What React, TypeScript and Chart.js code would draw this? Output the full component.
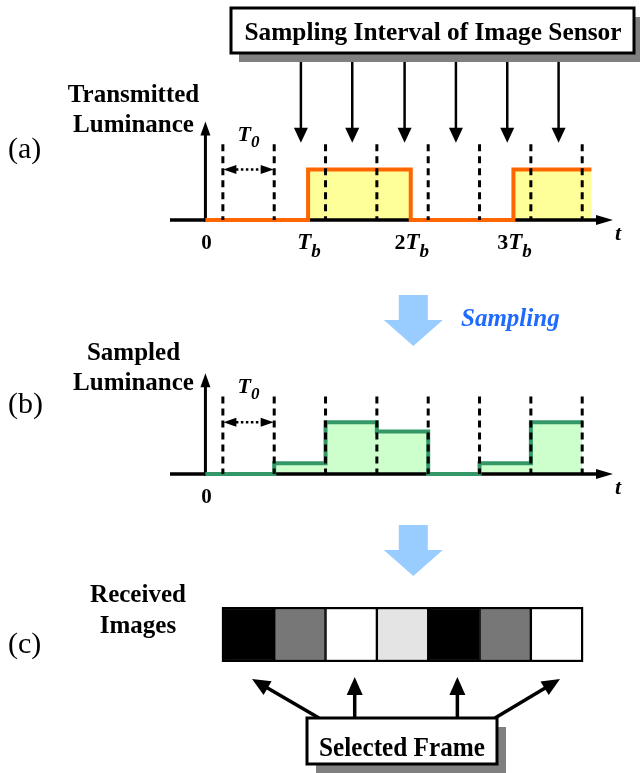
import React, { useEffect, useRef } from "react";
import { Chart, registerables } from "chart.js";

Chart.register(...registerables);

const W = 640;
const H = 773;
const SERIF = '"Liberation Serif", "Times New Roman", serif';

// Time axis, in units of the bit period Tb
const T_MIN = -0.345;
const T_MAX = 3.97;

// (a) transmitted luminance: level holding from each instant on
const TX_TIMES = [0, 1, 2, 3, 3.76];
const TX_LEVELS = [0, 1, 0, 1, 1];

// Frame boundaries of the image sensor (dashed lines)
const FRAME_EDGES = [0.17, 0.67, 1.17, 1.67, 2.17, 2.67, 3.17, 3.67];
// Sampling instants pointed at from the sensor box
const SENSOR_MARKS = [0.93, 1.43, 1.94, 2.44, 2.94, 3.44];

// (b) sampled luminance, one level per frame
const RX_TIMES = [0, 0.67, 1.17, 1.67, 2.17, 2.67, 3.17, 3.67];
const RX_LEVELS = [0, 0.21, 1, 0.82, 0, 0.21, 1, 1];

// (c) received images: grey level of each frame
const FRAME_SHADES = ["#000000", "#777777", "#ffffff", "#e4e4e4", "#000000", "#777777", "#ffffff"];
const SELECTED_FRAMES = [0, 2, 4, 6];

// time-axis tick labels
const TICK_VALUES = [0, 1, 2, 3];
const TICK_LABELS = ["0", "T_b", "2T_b", "3T_b"];

const ORANGE = "#ff6600";
const YELLOW = "#ffff99";
const GREEN = "#349866";
const MINT = "#ccffcc";
const SKY = "#99ccff";
const BLUE = "#1f6bff";

const B = (n: number) => `bold ${n}px ${SERIF}`;
const BI = (n: number) => `italic bold ${n}px ${SERIF}`;
const R = (n: number) => `${n}px ${SERIF}`;

type Part = { s: string; font: string; dy?: number };

function line(ctx: any, x1: number, y1: number, x2: number, y2: number) {
  ctx.beginPath();
  ctx.moveTo(x1, y1);
  ctx.lineTo(x2, y2);
  ctx.stroke();
}

function head(ctx: any, x: number, y: number, ang: number, len: number, half: number) {
  ctx.save();
  ctx.translate(x, y);
  ctx.rotate(ang);
  ctx.beginPath();
  ctx.moveTo(0, 0);
  ctx.lineTo(-len, -half);
  ctx.lineTo(-len, half);
  ctx.closePath();
  ctx.fill();
  ctx.restore();
}

function arrow(ctx: any, x1: number, y1: number, x2: number, y2: number, width: number, len: number, half: number) {
  const ang = Math.atan2(y2 - y1, x2 - x1);
  ctx.save();
  ctx.strokeStyle = "#000";
  ctx.fillStyle = "#000";
  ctx.lineWidth = width;
  line(ctx, x1, y1, x2 - Math.cos(ang) * len * 0.8, y2 - Math.sin(ang) * len * 0.8);
  head(ctx, x2, y2, ang, len, half);
  ctx.restore();
}

function text(ctx: any, s: string, x: number, y: number, font: string, align = "center", color = "#000", maxWidth?: number) {
  ctx.save();
  ctx.font = font;
  ctx.fillStyle = color;
  ctx.textAlign = align;
  ctx.textBaseline = "alphabetic";
  if (maxWidth) ctx.fillText(s, x, y, maxWidth);
  else ctx.fillText(s, x, y);
  ctx.restore();
}

function parts(ctx: any, list: Part[], cx: number, baseline: number) {
  ctx.save();
  ctx.fillStyle = "#000";
  ctx.textAlign = "left";
  ctx.textBaseline = "alphabetic";
  const widths = list.map((p) => {
    ctx.font = p.font;
    return ctx.measureText(p.s).width;
  });
  let x = cx - widths.reduce((a, b) => a + b, 0) / 2;
  list.forEach((p, i) => {
    ctx.font = p.font;
    ctx.fillText(p.s, x, baseline + (p.dy || 0));
    x += widths[i];
  });
  ctx.restore();
}

function tickParts(label: string): Part[] {
  const [pre, sub] = label.split("T_");
  if (sub === undefined) return [{ s: label, font: B(21) }];
  const out: Part[] = [];
  if (pre) out.push({ s: pre, font: B(22) });
  out.push({ s: "T", font: BI(23) }, { s: sub, font: BI(19), dy: 8 });
  return out;
}

function box(ctx: any, x: number, y: number, w: number, h: number, dx: number, dy: number) {
  ctx.save();
  ctx.fillStyle = "#808080";
  ctx.fillRect(x + dx, y + dy, w, h);
  ctx.fillStyle = "#fff";
  ctx.fillRect(x, y, w, h);
  ctx.strokeStyle = "#000";
  ctx.lineWidth = 3;
  ctx.strokeRect(x, y, w, h);
  ctx.restore();
}

function blueArrow(ctx: any, cx: number, top: number) {
  ctx.save();
  ctx.fillStyle = SKY;
  ctx.beginPath();
  ctx.moveTo(cx - 14.5, top);
  ctx.lineTo(cx + 14.5, top);
  ctx.lineTo(cx + 14.5, top + 25);
  ctx.lineTo(cx + 29.5, top + 25);
  ctx.lineTo(cx, top + 51);
  ctx.lineTo(cx - 29.5, top + 25);
  ctx.lineTo(cx - 14.5, top + 25);
  ctx.closePath();
  ctx.fill();
  ctx.restore();
}

// time axis with arrow and vertical axis with arrow
function drawAxes(chart: any) {
  const { ctx, chartArea: ca } = chart;
  const xs = chart.scales.x;
  const ys = chart.scales.y;
  const y0 = ys.getPixelForValue(0);
  const x0 = xs.getPixelForValue(0);
  ctx.save();
  ctx.strokeStyle = "#000";
  ctx.fillStyle = "#000";
  ctx.lineWidth = 3.5;
  line(ctx, ca.left, y0, ca.right - 12, y0);
  head(ctx, ca.right, y0, 0, 17, 5);
  const yt = ys.getPixelForValue(1.95);
  ctx.lineWidth = 3;
  line(ctx, x0, y0 + 1.75, x0, yt + 10);
  head(ctx, x0, yt, -Math.PI / 2, 14, 5);
  ctx.restore();
}

// dashed frame boundaries, T0 marker, tick labels and the t label
function drawFrameMarks(chart: any, tickCount: number) {
  const { ctx, chartArea: ca } = chart;
  const xs = chart.scales.x;
  const ys = chart.scales.y;
  const y0 = ys.getPixelForValue(0);
  const yTop = ys.getPixelForValue(1.5);
  ctx.save();
  ctx.strokeStyle = "#000";
  ctx.lineWidth = 3;
  ctx.setLineDash([7, 5]);
  FRAME_EDGES.forEach((e) => line(ctx, xs.getPixelForValue(e), yTop, xs.getPixelForValue(e), y0));
  ctx.restore();

  // T0 marker between the first two frame edges
  const xa = xs.getPixelForValue(FRAME_EDGES[0]);
  const xb = xs.getPixelForValue(FRAME_EDGES[1]);
  const ym = ys.getPixelForValue(1);
  ctx.save();
  ctx.fillStyle = "#000";
  ctx.strokeStyle = "#000";
  head(ctx, xa + 0.5, ym, Math.PI, 13, 4.5);
  head(ctx, xb - 0.5, ym, 0, 13, 4.5);
  ctx.lineWidth = 2.5;
  ctx.setLineDash([2.5, 2.5]);
  line(ctx, xa + 13, ym, xb - 13, ym);
  ctx.restore();
  parts(ctx, [{ s: "T", font: BI(22) }, { s: "0", font: BI(17), dy: 6 }], (xa + xb) / 2, ys.getPixelForValue(1.57));

  for (let i = 0; i < tickCount; i++) {
    parts(ctx, tickParts(TICK_LABELS[i]), xs.getPixelForValue(TICK_VALUES[i]) + 1, y0 + 29);
  }
  text(ctx, "t", ca.right + 5, y0 + 20, BI(22));
}

function baseOptions(padding: any, yMax: number) {
  return {
    responsive: false,
    animation: false,
    devicePixelRatio: 1,
    events: [],
    layout: { padding, autoPadding: false },
    plugins: {
      legend: { display: false },
      tooltip: { enabled: false },
      filler: { drawTime: "beforeDatasetsDraw" },
    },
    scales: {
      x: { type: "linear", min: T_MIN, max: T_MAX, display: false },
      y: { type: "linear", min: 0, max: yMax, display: false },
    },
  };
}

const PAD_X = { left: 170, right: 27 };

function stepSeries(times: number[], levels: number[], stroke: string, fill: string) {
  return {
    data: times.map((t, i) => ({ x: t, y: levels[i] })),
    stepped: true,
    borderColor: stroke,
    borderWidth: 4,
    backgroundColor: fill,
    fill: "origin",
    pointRadius: 0,
    tension: 0,
    clip: false,
    borderJoinStyle: "miter",
    borderCapStyle: "butt",
  };
}

function configA(): any {
  return {
    type: "line",
    data: { datasets: [stepSeries(TX_TIMES, TX_LEVELS, ORANGE, YELLOW)] },
    options: baseOptions({ ...PAD_X, top: 119, bottom: H - 220 }, 2),
    plugins: [
      {
        id: "panelA",
        beforeDatasetsDraw: (chart: any) => drawAxes(chart),
        afterDatasetsDraw: (chart: any) => {
          const { ctx } = chart;
          const xs = chart.scales.x;
          const ys = chart.scales.y;
          drawFrameMarks(chart, TICK_LABELS.length);
          // sensor box and its sampling arrows
          box(ctx, 231, 8, 403, 45, 8, 9);
          text(ctx, "Sampling Interval of Image Sensor", 433, 39.5, B(26), "center", "#000", 377);
          SENSOR_MARKS.forEach((t) => {
            const x = xs.getPixelForValue(t);
            arrow(ctx, x, 62, x, ys.getPixelForValue(1.53), 2.5, 15, 7);
          });
          text(ctx, "(a)", 8, 158, R(30), "left");
          text(ctx, "Transmitted", 133.5, 101.5, B(25));
          text(ctx, "Luminance", 133.5, 131.5, B(25));
        },
      },
    ],
  };
}

function configB(): any {
  return {
    type: "line",
    data: { datasets: [stepSeries(RX_TIMES, RX_LEVELS, GREEN, MINT)] },
    options: baseOptions({ ...PAD_X, top: 370.6, bottom: H - 474 }, 2),
    plugins: [
      {
        id: "panelB",
        beforeDatasetsDraw: (chart: any) => drawAxes(chart),
        afterDatasetsDraw: (chart: any) => {
          const { ctx } = chart;
          drawFrameMarks(chart, 1);
          blueArrow(ctx, 413.3, 295);
          text(ctx, "Sampling", 461, 326, BI(25), "left", BLUE, 101);
          text(ctx, "(b)", 8, 413, R(30), "left");
          text(ctx, "Sampled", 133.5, 360, B(25));
          text(ctx, "Luminance", 133.5, 390, B(25));
        },
      },
    ],
  };
}

function configC(): any {
  const opts: any = baseOptions({ ...PAD_X, top: 608, bottom: H - 661 }, 1);
  opts.indexAxis = "y";
  opts.scales = {
    x: { type: "linear", min: T_MIN, max: T_MAX, display: false },
    y: { type: "category", display: false },
  };
  return {
    type: "bar",
    data: {
      labels: ["frames"],
      datasets: FRAME_SHADES.map((shade, i) => ({
        data: [[FRAME_EDGES[i], FRAME_EDGES[i + 1]]],
        backgroundColor: shade,
        borderColor: "#000",
        borderWidth: 1.5,
        borderSkipped: false,
        grouped: false,
        barPercentage: 1,
        categoryPercentage: 1,
      })),
    },
    options: opts,
    plugins: [
      {
        id: "panelC",
        afterDatasetsDraw: (chart: any) => {
          const { ctx, chartArea: ca } = chart;
          const xs = chart.scales.x;
          const left = xs.getPixelForValue(FRAME_EDGES[0]);
          const right = xs.getPixelForValue(FRAME_EDGES[FRAME_EDGES.length - 1]);
          ctx.save();
          ctx.strokeStyle = "#000";
          ctx.lineWidth = 2;
          ctx.strokeRect(left, ca.top, right - left, ca.bottom - ca.top);
          ctx.restore();

          blueArrow(ctx, 413.3, 525);
          text(ctx, "(c)", 8, 653, R(30), "left");
          text(ctx, "Received", 138, 601.5, B(25));
          text(ctx, "Images", 138, 633, B(25));

          // selected-frame box with arrows to the chosen frames
          const bx = 307, by = 718, bw = 190, bh = 46;
          SELECTED_FRAMES.forEach((f) => {
            const tipX = (xs.getPixelForValue(FRAME_EDGES[f]) + xs.getPixelForValue(FRAME_EDGES[f + 1])) / 2 + 3.5;
            if (tipX < bx + 20) arrow(ctx, bx + 12, by, tipX, ca.bottom + 18, 3.5, 18, 8);
            else if (tipX > bx + bw - 20) arrow(ctx, bx + bw - 2, by, tipX, ca.bottom + 18, 3.5, 18, 8);
            else arrow(ctx, tipX, by, tipX, ca.bottom + 16, 3.5, 18, 8);
          });
          box(ctx, bx, by, bw, bh, 9, 9);
          text(ctx, "Selected Frame", bx + bw / 2, 755.5, B(27), "center", "#000", 166);
        },
      },
    ],
  };
}

export default function App() {
  const aRef = useRef<HTMLCanvasElement>(null);
  const bRef = useRef<HTMLCanvasElement>(null);
  const cRef = useRef<HTMLCanvasElement>(null);

  useEffect(() => {
    const charts = [
      new Chart(aRef.current as HTMLCanvasElement, configA()),
      new Chart(bRef.current as HTMLCanvasElement, configB()),
      new Chart(cRef.current as HTMLCanvasElement, configC()),
    ];
    return () => charts.forEach((c) => c.destroy());
  }, []);

  const layer: any = { position: "absolute", left: 0, top: 0, width: W, height: H };
  return (
    <div style={{ position: "absolute", left: 0, top: 0, width: W, height: H, background: "#fff" }}>
      <canvas ref={cRef} width={W} height={H} style={layer} />
      <canvas ref={bRef} width={W} height={H} style={layer} />
      <canvas ref={aRef} width={W} height={H} style={layer} />
    </div>
  );
}
